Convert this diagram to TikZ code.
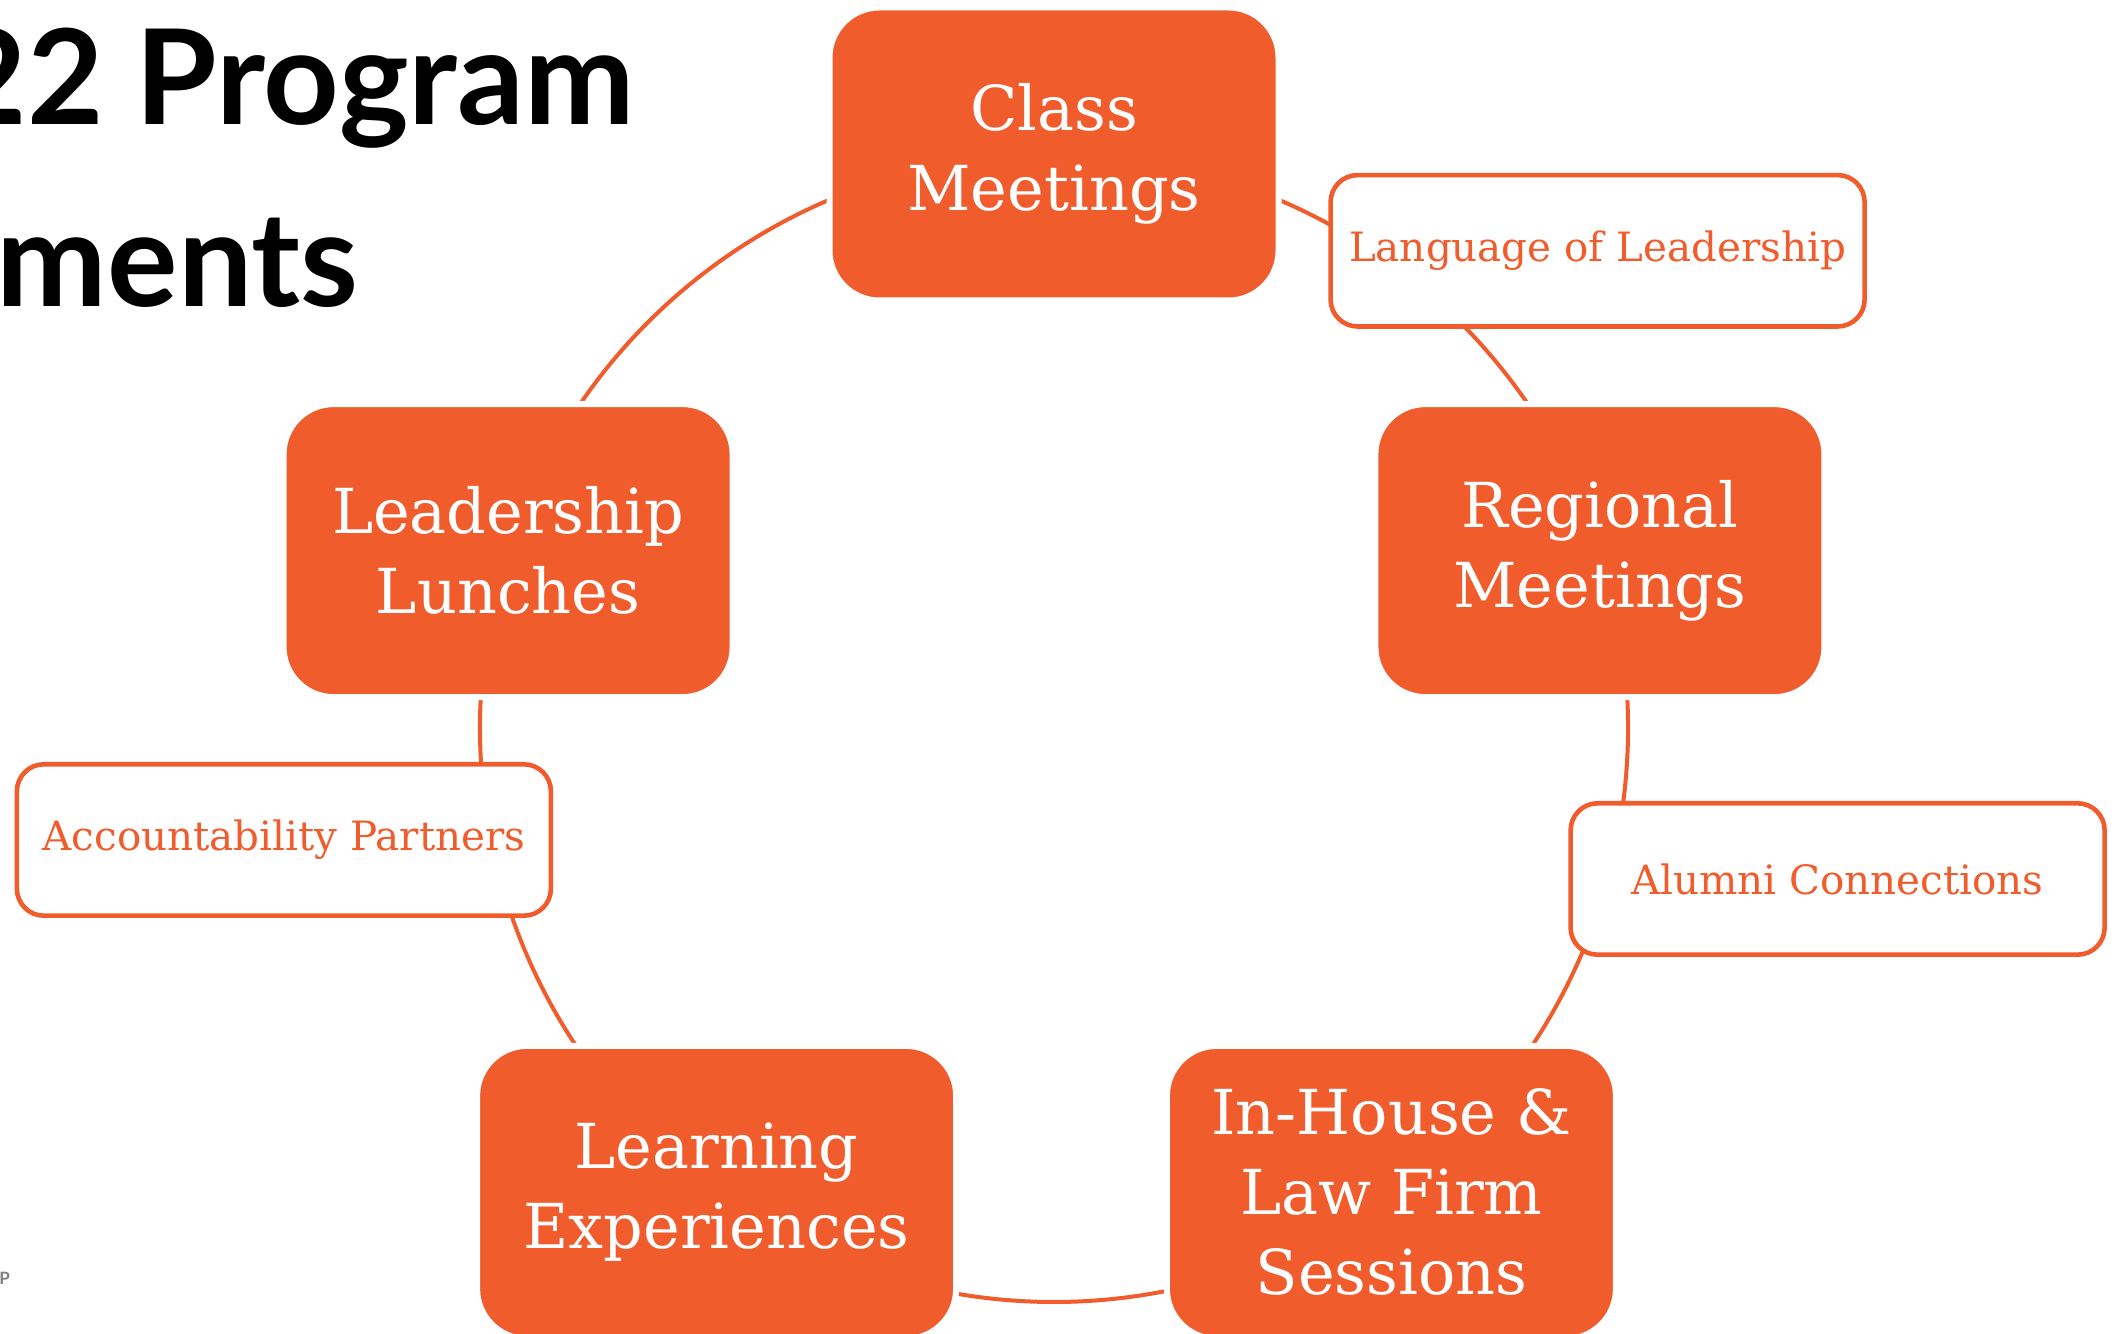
\documentclass[tikz,border=0pt]{standalone}
\usepackage{fontspec}
\setmainfont{DejaVu Serif}
\newfontfamily\titlefont{Lato}
\usetikzlibrary{backgrounds}
\definecolor{brand}{RGB}{241,92,45}
\definecolor{footgrey}{RGB}{128,128,128}
\begin{document}
\begin{tikzpicture}[x=0.5pt,y=0.5pt,
  mainbox/.style={rectangle, rounded corners=25pt, fill=brand, draw=white, line width=3pt,
    text=white, minimum width=224.5pt, minimum height=146.5pt, inner sep=0pt,
    align=center, font=\fontsize{31}{40}\selectfont},
  subbox/.style={rectangle, rounded corners=13.5pt, fill=white, draw=brand, line width=2.3pt,
    minimum width=267pt, minimum height=75.7pt, inner sep=0pt, text=brand,
    font=\fontsize{20.2}{24}\selectfont},
  ring/.style={draw=brand, line width=2pt},
  titletext/.style={font=\titlefont\bfseries\fontsize{66}{72}\selectfont,
    anchor=base east, inner sep=0pt, text=black},
]
\useasboundingbox (0,0) rectangle (2114,1333);
\clip (0,0) rectangle (2114,1333);
\coordinate (cc) at (1054,605);

% title (cut at the left edge)
\node[titletext] (t1) at (635,1208) {22 Program};
\node[titletext] (t2) at (359,1026) {ments};
\node[font=\titlefont\bfseries\fontsize{8.5}{10}\selectfont, text=footgrey,
  anchor=base west, inner sep=0pt] (ft) at (-1,49) {P};

% main program elements
\node[mainbox] (cm) at ([shift={(90:574)}]cc) {Class\\Meetings};
\node[mainbox] (rm) at ([shift={(18:574)}]cc) {Regional\\Meetings};
\node[mainbox] (ih) at ([shift={(-54:574)}]cc) {In-House \&\\Law Firm\\Sessions};
\node[mainbox, minimum width=239.5pt] (le) at ([shift={(234:574)}]cc) {Learning\\Experiences};
\node[mainbox] (ll) at ([shift={(162:574)}]cc) {Leadership\\Lunches};

% secondary elements sitting on the ring
\node[subbox] (lol) at (1597.6,1082.2) {Language of Leadership};
\node[subbox] (ac) at (1837.6,454) {Alumni Connections};
\node[subbox] (ap) at (283.9,493) {Accountability Partners};

% ring connectors
\begin{pgfonlayer}{background}
\draw[ring] (cm.center) arc[start angle=90, end angle=18, radius=574];
\draw[ring] (rm.center) arc[start angle=18, end angle=-54, radius=574];
\draw[ring] (ih.center) arc[start angle=-54, end angle=-126, radius=574];
\draw[ring] (le.center) arc[start angle=234, end angle=162, radius=574];
\draw[ring] (ll.center) arc[start angle=162, end angle=90, radius=574];
\end{pgfonlayer}
\end{tikzpicture}
\end{document}
